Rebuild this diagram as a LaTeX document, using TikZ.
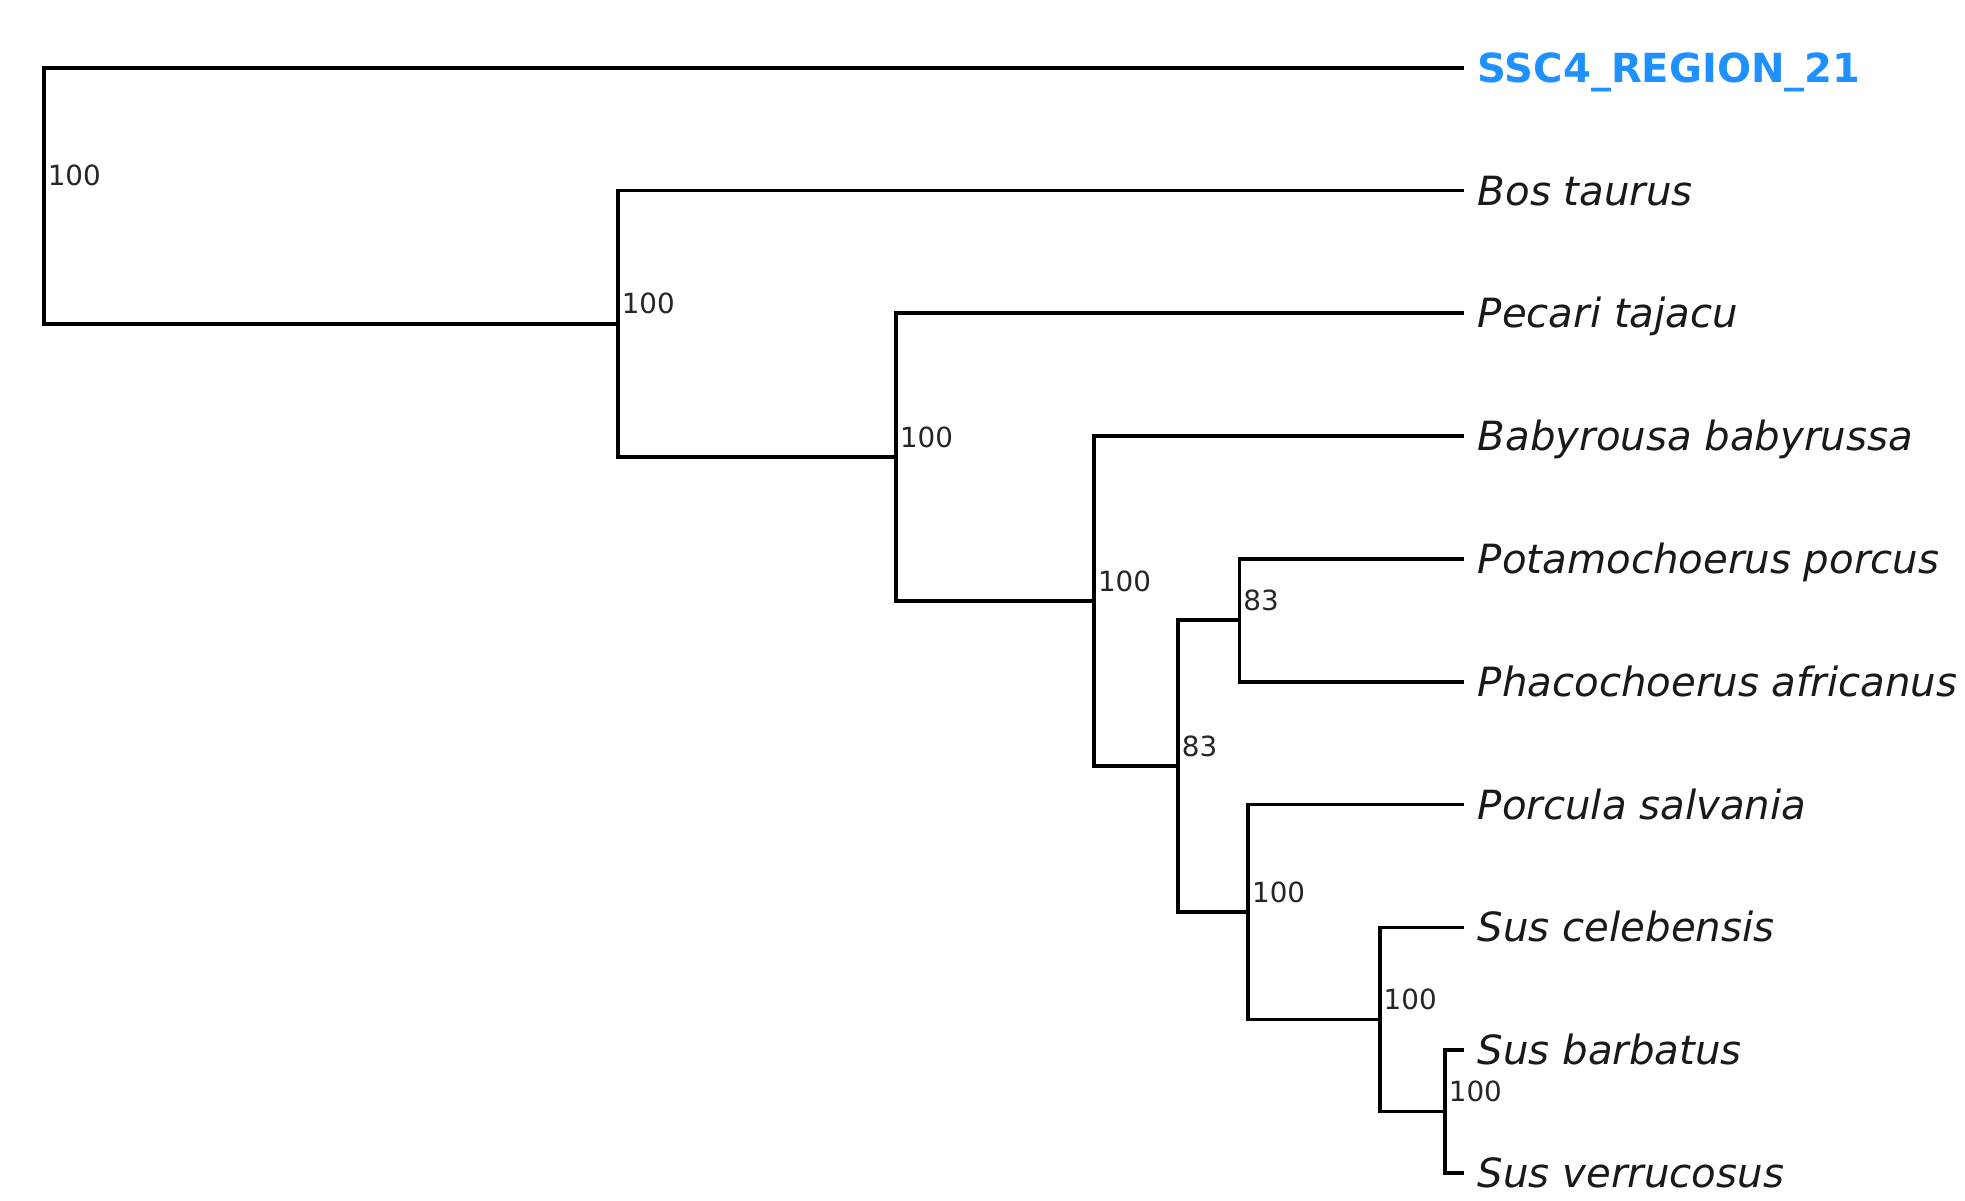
\documentclass[tikz,border=0pt]{standalone}
\usepackage{fontspec}
\setmainfont{DejaVu Sans}[ItalicFont={DejaVu Sans Oblique},BoldFont={DejaVu Sans Bold}]
\usepackage{tikz}
\usetikzlibrary{positioning}
\definecolor{querycol}{HTML}{1E90FF}
\tikzstyle{tree}=[x=0.012532cm, y=-0.012532cm, line width=1.05pt]
\tikzstyle{leaf}=[inner sep=0, outer sep=0, text height=8.3pt, text depth=0pt,
                  font=\fontsize{11.45}{13}\selectfont\itshape, text=black!90]
\tikzstyle{query}=[leaf, font=\fontsize{11.4}{13}\selectfont\bfseries, text=querycol]
\tikzstyle{supp}=[inner sep=0, anchor=base west, yshift=2.8pt, xshift=0.6pt,
                  font=\fontsize{7.9}{9}\selectfont, text=black!85]

\begin{document}
\begin{tikzpicture}[tree]
  \path[use as bounding box] (0,0) rectangle (1568,958);
  % tips
  \coordinate (t1) at (1168,54);
  \coordinate (t2) at (1168,152);
  \coordinate (t3) at (1168,250);
  \coordinate (t4) at (1168,348);
  \coordinate (t5) at (1168,446);
  \coordinate (t6) at (1168,544);
  \coordinate (t7) at (1168,642);
  \coordinate (t8) at (1168,740);
  \coordinate (t9) at (1168,838);
  \coordinate (t10) at (1168,936);
  % inner nodes
  \coordinate (h) at (1153,887);
  \coordinate (g) at (1101,813.5);
  \coordinate (f) at (996,727.75);
  \coordinate (e) at (989,495);
  \coordinate (d) at (940,611.4);
  \coordinate (c) at (873,479.7);
  \coordinate (b) at (715,364.85);
  \coordinate (a) at (493,258.4);
  \coordinate (r) at (35,156.2);
  % taxa
  \node[query, right=4pt of t1] (ssc) {SSC4\_REGION\_21};
  \node[leaf, right=4pt of t2] (bos) {Bos taurus};
  \node[leaf, right=4pt of t3] (pec) {Pecari tajacu};
  \node[leaf, right=4pt of t4] (bab) {Babyrousa babyrussa};
  \node[leaf, right=4pt of t5] (pot) {Potamochoerus porcus};
  \node[leaf, right=4pt of t6] (pha) {Phacochoerus africanus};
  \node[leaf, right=4pt of t7] (por) {Porcula salvania};
  \node[leaf, right=4pt of t8] (cel) {Sus celebensis};
  \node[leaf, right=4pt of t9] (bar) {Sus barbatus};
  \node[leaf, right=4pt of t10] (ver) {Sus verrucosus};
  % branches
  \draw (r) |- (t1)  (r) |- (a)
        (a) |- (t2)  (a) |- (b)
        (b) |- (t3)  (b) |- (c)
        (c) |- (t4)  (c) |- (d)
        (d) |- (e)   (d) |- (f)
        (e) |- (t5)  (e) |- (t6)
        (f) |- (t7)  (f) |- (g)
        (g) |- (t8)  (g) |- (h)
        (h) |- (t9)  (h) |- (t10);
  % support values
  \node[supp] (sr) at (r) {100};
  \node[supp] (sa) at (a) {100};
  \node[supp] (sb) at (b) {100};
  \node[supp] (sc) at (c) {100};
  \node[supp] (sd) at (d) {83};
  \node[supp] (se) at (e) {83};
  \node[supp] (sf) at (f) {100};
  \node[supp] (sg) at (g) {100};
  \node[supp] (sh) at (h) {100};
\end{tikzpicture}
\end{document}
